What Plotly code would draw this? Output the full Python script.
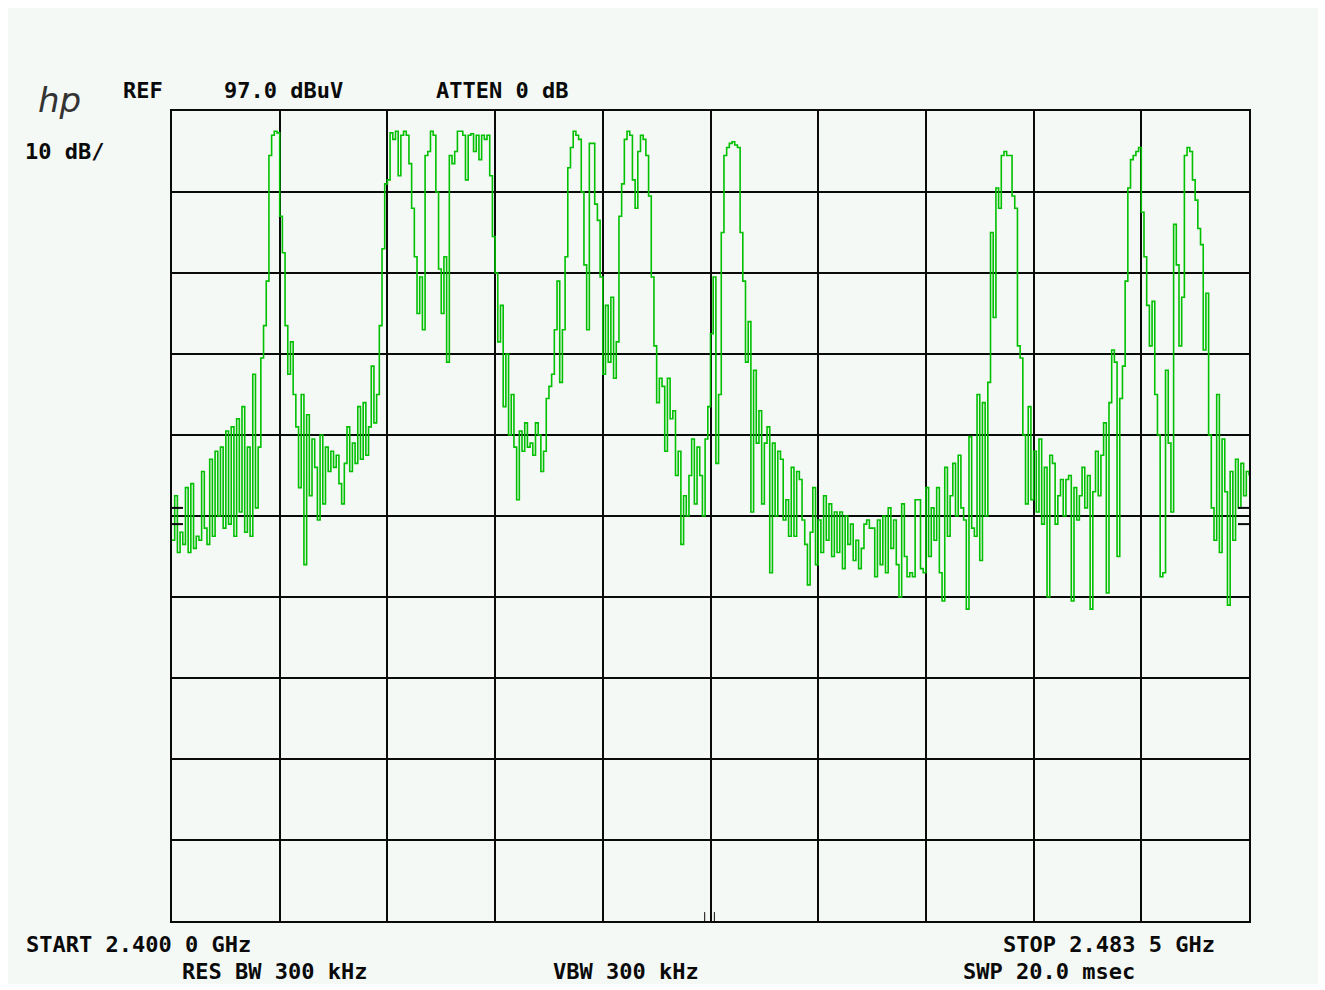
import numpy as np
import plotly.graph_objects as go

# Sweep settings (HP spectrum analyzer, 2.4 GHz ISM band)
START_MHZ = 2400.0
STOP_MHZ = 2483.5
REF_DBUV = 97.0
DB_PER_DIV = 10.0
N_DIV_Y = 10
N_DIV_X = 10

# Measured level per sweep point (dBuV), one row block per horizontal division
level_div1 = [44, 49.5, 42.5, 45, 43.5, 50.5, 42.5, 51, 43, 44.5,
              44, 52.5, 45.5, 43.5, 54, 44.5, 55, 47, 55.5, 45.5,
              57.5, 46, 58, 44.5, 59, 47.5, 60.5, 45, 55.5, 44.5,
              64.5, 48, 55.5, 66.5, 70.5, 76, 91.5, 94, 94.5, 94.3]
level_div2 = [84, 79.5, 70.5, 64.5, 68.5, 62, 58, 50.5, 62, 41,
              59.5, 49.5, 56.5, 53, 46.5, 57, 48.5, 55.5, 52.5, 55,
              53, 54.5, 51, 48.5, 53.5, 58, 52.5, 56, 53.5, 60.5,
              54, 61, 54.5, 58, 65.5, 58.5, 62, 70.5, 80, 88]
level_div3 = [88.5, 94.3, 93.5, 94.5, 89, 94, 94.5, 94, 90.5, 85,
              79, 72, 76.5, 70, 91.5, 92, 94.5, 94, 87, 77.5,
              72, 79, 66, 91.5, 90.5, 92, 94.5, 94.5, 94, 88.5,
              94, 94.2, 92, 94, 91, 94, 93.5, 94, 89, 81.5]
level_div4 = [77, 68.5, 73, 60.5, 67, 57, 62, 55.5, 49, 57.5,
              55, 58.5, 55.5, 56, 54.5, 58.5, 57, 52.5, 55, 61.5,
              63, 64.5, 70, 76, 63.5, 70, 79, 90, 92.5, 94.5,
              94, 93.5, 87, 78, 70, 93, 93, 85.5, 83.5, 76.5]
level_div5 = [64.5, 73, 66, 74, 64, 68.5, 84, 88, 93.5, 94.5,
              94, 88.5, 85, 92, 94, 93.5, 91.5, 86.5, 76.5, 68,
              61, 64, 63, 55, 64, 59, 60, 52, 55, 43.5,
              49.5, 47, 52, 56.5, 48.5, 55.5, 52, 47, 56.5, 60.5]
level_div6 = [69.5, 76.5, 53.5, 62, 82, 91.5, 92.5, 93, 93.2, 92.8,
              92.5, 82, 76, 66, 71, 47.5, 65, 56, 60, 48.5,
              56, 58, 40, 56, 47, 55, 54, 46.5, 49, 44.5,
              53, 44.5, 52.5, 51.5, 46.5, 43.5, 38.5, 45, 50.5, 41]
level_div7 = [46.5, 42.5, 49.5, 44, 48.5, 42, 47.5, 42.5, 47.5, 40.5,
              47, 43.5, 46, 41.5, 44, 40.5, 43, 46, 46.5, 45.5,
              45.5, 39.5, 46.5, 41, 47, 40, 48, 43, 46.5, 41,
              37, 48.5, 42, 39.5, 40, 39.5, 49, 49, 40.5, 40]
level_div8 = [50.5, 42, 48, 44, 50.5, 40, 36.5, 53, 44.5, 49.5,
              53.5, 47, 54.5, 48, 46.5, 35.5, 56.8, 45.5, 44.5, 62,
              41.5, 61, 47, 63.5, 82, 71.5, 87.5, 85, 91.5, 92,
              91.5, 91.5, 86.5, 85, 68, 66.5, 57, 48.5, 60.5, 49]
level_div9 = [55, 47.5, 56.5, 46, 53, 37, 54.5, 53.5, 46, 49.5,
              51.5, 47, 51.5, 52, 36.5, 50.5, 46.5, 49.5, 53, 48,
              52, 35.5, 50, 55, 49.5, 54.5, 58.5, 37.5, 61, 67.5,
              66, 42, 61.5, 65.5, 76, 87.5, 91, 91.5, 92, 92.5]
level_div10 = [84.5, 79, 73, 68, 73.5, 62, 57, 39.5, 40, 65,
               56, 47.5, 83, 78, 68, 74, 91.5, 92.5, 92, 88.5,
               86, 82.5, 80.5, 67.5, 74.5, 57, 48, 44, 62, 42.5,
               56.5, 50, 36, 52.5, 44, 54, 48, 53.5, 49.5, 52.5, 52]

# Display line markers (dBuV) at the graticule edges
display_lines_dbuv = [48.0, 46.0]

header_texts = ["REF", "97.0 dBuV", "ATTEN 0 dB"]
footer_texts = ["START 2.400 0 GHz", "STOP 2.483 5 GHz",
                "RES BW 300 kHz", "VBW 300 kHz", "SWP 20.0 msec"]

level = (level_div1 + level_div2 + level_div3 + level_div4 + level_div5 +
         level_div6 + level_div7 + level_div8 + level_div9 + level_div10)
freq = np.linspace(START_MHZ, STOP_MHZ, len(level))

bottom_db = REF_DBUV - DB_PER_DIV * N_DIV_Y

# Page geometry (px)
W, H = 1325, 990
PL, PR, PT, PB = 172, 1249, 111, 921

def px_x(px):
    return (px - PL) / (PR - PL)

def px_y(py):
    return (PB - py) / (PB - PT)

TRACE = "#00c000"
INK = "#0a0a0a"
SCREEN = "#f4f9f5"

fig = go.Figure()
fig.add_trace(go.Scatter(
    x=freq, y=level, mode="lines",
    line=dict(color=TRACE, width=1.6, shape="hv"),
    hoverinfo="skip", showlegend=False,
))

shapes = [
    # screen panel
    dict(type="rect", xref="paper", yref="paper",
         x0=px_x(8), x1=px_x(1318), y0=px_y(984), y1=px_y(8),
         fillcolor=SCREEN, line=dict(width=0), layer="below"),
]
for lvl in display_lines_dbuv:
    shapes.append(dict(type="line", xref="paper", yref="y",
                       x0=0, x1=px_x(183), y0=lvl, y1=lvl,
                       line=dict(color=INK, width=2)))
    shapes.append(dict(type="line", xref="paper", yref="y",
                       x0=px_x(1238), x1=1, y0=lvl, y1=lvl,
                       line=dict(color=INK, width=2)))
center = (START_MHZ + STOP_MHZ) / 2
for off in (-0.45, 0.3):
    shapes.append(dict(type="line", xref="x", yref="y",
                       x0=center + off, x1=center + off,
                       y0=bottom_db, y1=bottom_db + 1.1,
                       line=dict(color=INK, width=1)))

font = dict(family="DejaVu Sans Mono", size=22, color=INK, weight="bold")

def label(text, px, py, **kw):
    return dict(text=text, x=px_x(px), y=px_y(py), xref="paper", yref="paper",
                xanchor="left", yanchor="middle", showarrow=False,
                font=kw.get("font", font))

annotations = [
    label(header_texts[0], 121, 91),
    label(header_texts[1], 222, 91),
    label(header_texts[2], 434, 91),
    label("10 dB/", 23, 151),
    label(footer_texts[0], 24, 944),
    label(footer_texts[1], 1001, 944),
    label(footer_texts[2], 180, 972),
    label(footer_texts[3], 551, 972),
    label(footer_texts[4], 961, 972),
    label("hp", 36, 100,
          font=dict(family="DejaVu Sans", size=34, color="#333333",
                    style="italic", weight="normal")),
]

fig.update_layout(
    width=W, height=H,
    margin=dict(l=PL, r=W - PR, t=PT, b=H - PB, pad=0),
    paper_bgcolor="#ffffff",
    plot_bgcolor="rgba(0,0,0,0)",
    shapes=shapes,
    annotations=annotations,
    showlegend=False,
)
fig.update_xaxes(
    range=[START_MHZ, STOP_MHZ], tick0=START_MHZ,
    dtick=(STOP_MHZ - START_MHZ) / N_DIV_X,
    showgrid=True, gridcolor=INK, gridwidth=2,
    showline=True, linecolor=INK, linewidth=2, mirror=True,
    zeroline=False, showticklabels=False, ticks="",
)
fig.update_yaxes(
    range=[bottom_db, REF_DBUV], tick0=bottom_db, dtick=DB_PER_DIV,
    showgrid=True, gridcolor=INK, gridwidth=2,
    showline=True, linecolor=INK, linewidth=2, mirror=True,
    zeroline=False, showticklabels=False, ticks="",
)

fig.write_html("out.html")
